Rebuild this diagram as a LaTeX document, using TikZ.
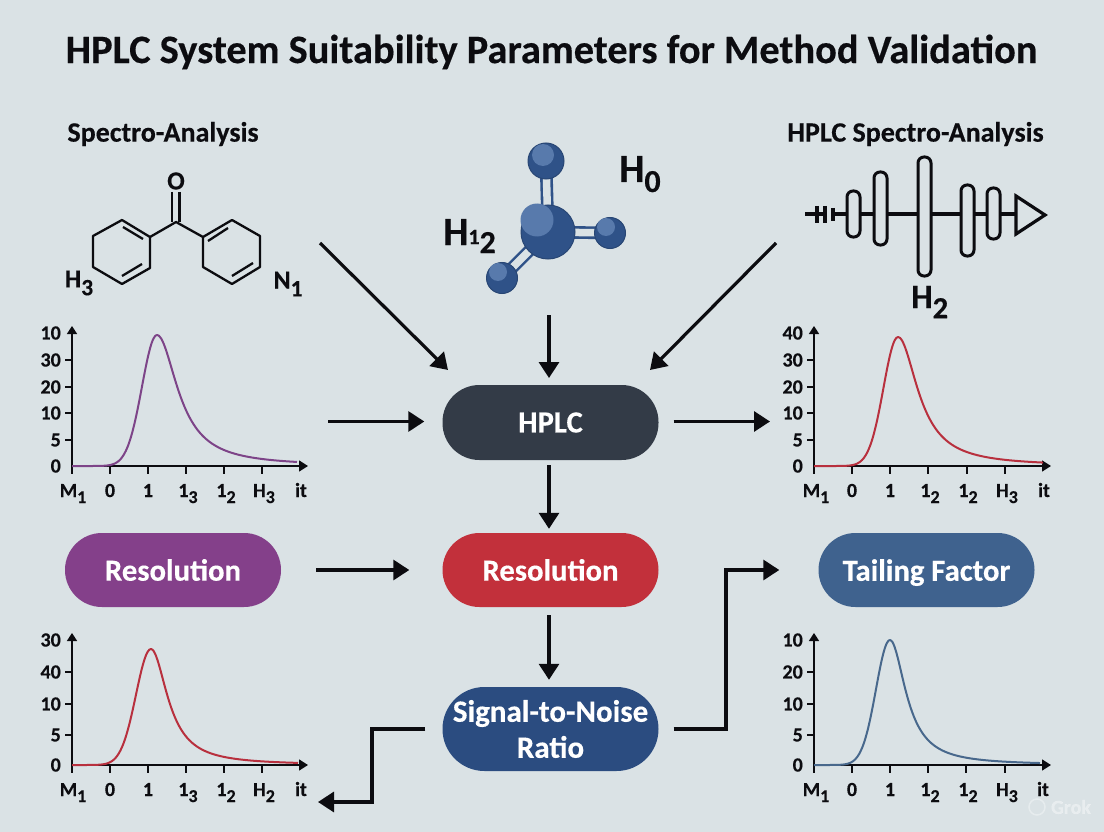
\documentclass[tikz,border=0pt]{standalone}
\usepackage{fontspec}
\setmainfont{Carlito}[BoldFeatures={FakeBold=0.35}]
\usetikzlibrary{arrows.meta}
\definecolor{bgc}{HTML}{DAE2E5}
\definecolor{ink}{HTML}{0C0C10}
\definecolor{hplcc}{HTML}{333B47}
\definecolor{redc}{HTML}{C2303B}
\definecolor{navyc}{HTML}{2B4C80}
\definecolor{purc}{HTML}{84408A}
\definecolor{tailc}{HTML}{3F628E}
\definecolor{ballc}{HTML}{2F5288}
\definecolor{ballh}{HTML}{587AAC}
\definecolor{curvep}{HTML}{7D4488}
\definecolor{curver}{HTML}{B8303E}
\definecolor{curveb}{HTML}{48688C}
\newcommand{\sbb}[1]{\raisebox{-0.3em}{\scalebox{0.9}{#1}}}
\newcommand{\chartaxes}[9]{%
  \draw[axisline,-{Triangle[length=8pt,width=10pt]}] (#2,#3) -- (#2,#4);
  \draw[axisline,-{Triangle[length=9pt,width=11pt]}] (#2,#3) -- (#5,#3);
  \foreach \t/\y [count=\i] in {#6}{\node[ticklab,anchor=east] (#1y\i) at (#2-11,\y) {\t};}
  \foreach \y in {#7}{\draw[axisline] (#2,\y) -- (#2-7,\y);}
  \foreach \x in {#8}{\draw[axisline] (\x,#3) -- (\x,#3+8);}
  \draw[axisline] (#2,#3) -- (#2,#3+8);
  \foreach \t/\x [count=\i] in {#9}{\node[ticklab,anchor=base] (#1x\i) at (\x,#3+31) {\t};}
}
% colour, start x, end x, peak x, baseline y, height, left sigma, right width
\newcommand{\peakcurve}[8]{%
  \draw[line width=2pt,#1,line join=round]
    plot[domain=#2:#4,samples=50,smooth] (\x,{#5-#6*exp(-0.5*((\x-#4)/#7)*((\x-#4)/#7))})
    -- plot[domain=#4:#3,samples=70,smooth] (\x,{#5-#6/(1+((\x-#4)/#8)*((\x-#4)/#8))});
}
\tikzset{
  x=1pt,y=-1pt,
  pill/.style={rectangle,rounded corners=36.9pt,minimum width=216pt,text=white,inner sep=0pt,
    font=\fontsize{30.7}{31}\selectfont\bfseries,align=center},
  flow/.style={draw=ink,line width=3.2pt,-{Triangle[length=16pt,width=20pt]}},
  axisline/.style={draw=ink,line width=1.6pt},
  ticklab/.style={text=ink,inner sep=0pt,font=\fontsize{20}{20}\selectfont\bfseries},
  hdr/.style={text=ink,inner sep=0pt,font=\fontsize{28}{28}\selectfont\bfseries},
  lab/.style={text=ink,inner sep=0pt,font=\fontsize{26}{26}\selectfont\bfseries},
  biglab/.style={text=ink,inner sep=0pt,font=\fontsize{40}{40}\selectfont\bfseries},
  chem/.style={draw=ink,line width=2.3pt,line join=round},
  icon/.style={draw=ink,line width=3.2pt},
  bar/.style={draw=ink,line width=3pt,fill=bgc,rounded corners=6pt},
  bond/.style={draw=ballc,line width=2.6pt,double=bgc,double distance=7.5pt},
  ball/.style={circle,fill=ballc,draw=ballc!85!black,line width=1pt,inner sep=0pt},
}
\begin{document}
\begin{tikzpicture}
\useasboundingbox (0,0) rectangle (1104,832);
\fill[bgc] (0,0) rectangle (1104,832);

% title and headers
\node[text=ink,inner sep=0pt,font=\fontsize{40.4}{40}\selectfont\bfseries] (title) at (551.5,52) {HPLC System Suitability Parameters for Method Validation};
\node[hdr] (hleft) at (163,134) {Spectro-Analysis};
\node[hdr] (hright) at (915.5,134) {HPLC Spectro-Analysis};

% left structure
\draw[chem] (150,237) -- (122,220) -- (93,236) -- (93,267) -- (122,284) -- (150,268) -- cycle;
\draw[chem] (123,227) -- (143,239) (122,276) -- (142,264);
\draw[chem] (203,237) -- (232,220) -- (260,236) -- (260,267) -- (232,284) -- (203,267) -- cycle;
\draw[chem] (208,241) -- (228,228) (232,276) -- (253,263);
\draw[chem] (150,237) -- (176,222) -- (203,237);
\draw[chem] (172,192) -- (172,222) (179.5,192) -- (179.5,222);
\node[lab] (oxy) at (176,181) {O};
\node[lab] (h3) at (79,283) {H\sbb{3}};
\node[lab] (n1) at (288,284) {N\sbb{1}};

% molecule
\coordinate (mc) at (548,232);
\coordinate (mt) at (546,161);
\coordinate (mr) at (610,233);
\coordinate (ml) at (502,278);
\draw[bond] (mc) -- (mt);
\draw[bond] (mc) -- (mr);
\draw[bond] (mc) -- (ml);
\node[ball,minimum size=54pt] (mcen) at (mc) {};
\node[ball,minimum size=36pt] (mtop) at (mt) {};
\node[ball,minimum size=31pt] (mright) at (mr) {};
\node[ball,minimum size=31pt] (mleft) at (ml) {};
\fill[ballh] (537,220) circle (16.5);
\fill[ballh] (543,155) circle (11);
\fill[ballh] (606,227) circle (9);
\fill[ballh] (498,272) circle (9);
\node[biglab,anchor=base west] (h0) at (619,182) {H\raisebox{-0.25em}{\scalebox{0.8}{0}}};
\node[biglab,anchor=base west] (h12) at (443,245) {H\raisebox{0.02em}{\scalebox{0.55}{1}}\raisebox{-0.2em}{\scalebox{0.8}{2}}};

% right icon
\draw[icon] (805,214) -- (825,214) (833,214) -- (1016,214);
\draw[icon] (817,206) -- (817,223) (825,206) -- (825,223) (833,208) -- (833,221);
\draw[bar] (847,191) rectangle (860,237);
\draw[bar] (874,172) rectangle (887,245);
\draw[bar] (918,157) rectangle (931,276);
\draw[bar] (961,185) rectangle (974,256);
\draw[bar] (987,188) rectangle (1000,239);
\draw[icon,line join=miter] (1016,196) -- (1045,215) -- (1016,234) -- cycle;
\node[biglab,font=\fontsize{34}{34}\selectfont\bfseries,anchor=base west] (h2) at (911,308) {H\sbb{2}};

% charts
\chartaxes{ca}{72}{466}{326}{308}{10/333,30/360,20/387,10/413,5/440,0/466}{360,387,413,440}{110,148,186,224,262}{M\sbb{1}/73,0/110,1/148,1\sbb{3}/188,1\sbb{2}/226,H\sbb{3}/264,it/301}
\peakcurve{curvep}{72}{297}{157}{466}{131}{15}{25}

\chartaxes{cb}{814}{466}{326}{1051}{40/333,30/360,20/387,10/413,5/440,0/466}{360,387,413,440}{852,890,928,967,1005}{M\sbb{1}/816,0/852,1/890,1\sbb{2}/930,1\sbb{2}/968,H\sbb{3}/1007,it/1044}
\peakcurve{curver}{814}{1043}{898}{466}{129}{14.5}{24}

\chartaxes{cc}{72}{765}{633}{308}{30/640,40/672,10/704,5/735,0/765}{672,704,735}{110,148,186,224,262}{M\sbb{1}/73,0/110,1/148,1\sbb{3}/188,1\sbb{2}/226,H\sbb{2}/264,it/301}
\peakcurve{curver}{72}{298}{151}{765}{116}{15}{20}

\chartaxes{cd}{814}{765}{633}{1051}{10/640,20/672,10/704,5/735,0/765}{672,704,735}{852,890,928,966,1005}{M\sbb{1}/816,0/852,1/890,1\sbb{2}/930,1\sbb{2}/968,H\sbb{3}/1007,it/1043}
\peakcurve{curveb}{814}{1040}{890}{765}{125}{14}{19}

% pills
\node[pill,fill=hplcc,minimum height=75pt] (hplc) at (550.5,422.5) {HPLC};
\node[pill,fill=redc,minimum height=74pt] (res) at (550.5,570) {Resolution};
\node[pill,fill=navyc,minimum height=84pt,rounded corners=41.9pt,font=\fontsize{31}{36}\selectfont\bfseries] (sig) at (550.5,729) {Signal-to-Noise\\Ratio};
\node[pill,fill=purc,minimum height=74pt] (pur) at (173,570) {Resolution};
\node[pill,fill=tailc,minimum height=74pt,text depth=0pt] (tail) at (926.5,570) {Tailing Factor};

% connector free ends
\coordinate (fromleft) at (320,243);
\coordinate (toleft) at (448,370);
\coordinate (fromright) at (776,243);
\coordinate (toright) at (650,370);
\coordinate (frommol) at (549,315);
\coordinate (tomol) at (549,378);
\coordinate (fromchart) at (328,421.5);
\coordinate (tochart) at (770,421.5);
\coordinate (tochartb) at (318,802);
\coordinate (elbowa) at (372,729);
\coordinate (elbowb) at (726,729);

\draw[flow] (fromleft) -- (toleft);
\draw[flow] (fromright) -- (toright);
\draw[flow] (frommol) -- (tomol);
\draw[flow,shorten >=18pt] (fromchart) -- (hplc.west |- fromchart);
\draw[flow,shorten <=15pt] (hplc.east |- tochart) -- (tochart);
\draw[flow,shorten <=5pt,shorten >=4pt] (hplc.south -| tomol) -- (res.north -| tomol);
\draw[flow,shorten <=35pt,shorten >=33pt] (pur.east) -- (res.west);
\draw[flow,shorten <=8pt,shorten >=7pt] (res.south -| tomol) -- (sig.north -| tomol);
\draw[flow,shorten <=17pt,line join=miter] (sig.west) -- (elbowa) |- (tochartb);
\draw[flow,shorten <=15pt,shorten >=39pt,line join=miter] (sig.east) -- (elbowb) |- (tail.west);

% watermark
\draw[white,opacity=0.35,line width=1.5pt] (1037,807) circle (8);
\node[text=white,opacity=0.4,inner sep=0pt,font=\fontsize{20}{20}\selectfont\bfseries] (grok) at (1071,807) {Grok};
\end{tikzpicture}
\end{document}
